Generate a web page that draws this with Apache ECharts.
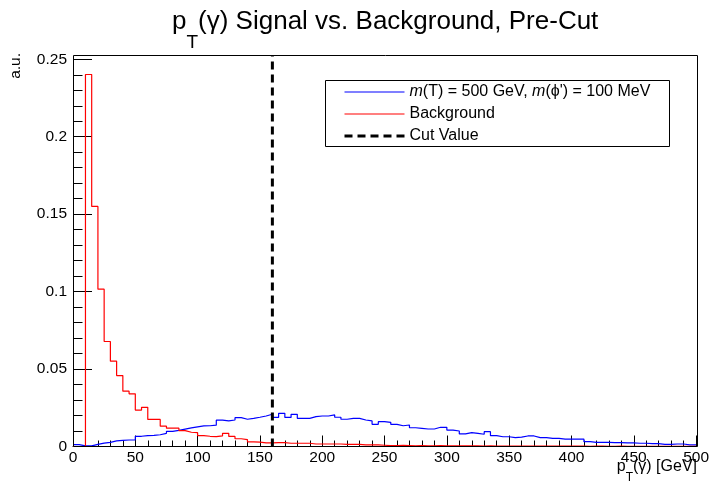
<!DOCTYPE html>
<html><head><meta charset="utf-8">
<script src="https://cdn.jsdelivr.net/npm/echarts@6/dist/echarts.min.js"></script>
<style>html,body{margin:0;padding:0;background:#fff}#c{width:712px;height:482px}</style>
</head><body><div id="c"></div>
<script>
// ---- data ----
const binWidth = 5;           // GeV per bin
const xMin = 0, xMax = 500;
const cutValue = 160;
const signalValues = [
0.0012,0.0004,0.0004,0.0014,0.0022,0.0027,0.0036,0.0040,0.0042,0.0043,
0.0066,0.0070,0.0072,0.0076,0.0085,0.0098,0.0104,0.0112,0.0120,0.0127,
0.0133,0.0134,0.0138,0.0170,0.0166,0.0171,0.0186,0.0176,0.0182,0.0189,
0.0197,0.0208,0.0188,0.0214,0.0188,0.0208,0.0182,0.0182,0.0193,0.0197,
0.0197,0.0204,0.0189,0.0176,0.0182,0.0182,0.0171,0.0165,0.0143,0.0160,
0.0156,0.0143,0.0134,0.0139,0.0121,0.0117,0.0113,0.0113,0.0124,0.0124,
0.0106,0.0100,0.0081,0.0090,0.0085,0.0079,0.0096,0.0070,0.0063,0.0063,
0.0057,0.0060,0.0068,0.0068,0.0057,0.0057,0.0053,0.0053,0.0048,0.0048,
0.0048,0.0048,0.0031,0.0027,0.0027,0.0027,0.0025,0.0025,0.0023,0.0023,
0.0021,0.0021,0.0019,0.0019,0.0014,0.0014,0.0016,0.0016,0.0010,0.0010];
const backgroundValues = [
0,0,0.2402,0.1550,0.1016,0.0678,0.0551,0.0458,0.0357,0.0340,
0.0235,0.0253,0.0175,0.0175,0.0131,0.0118,0.0118,0.0103,0.0092,0.0089,
0.0070,0.0066,0.0064,0.0068,0.0085,0.0065,0.0050,0.0045,0.0030,0.0028,
0.0024,0.0024,0.0025,0.0025,0.0021,0.0021,0.0021,0.0021,0.0016,0.0016,
0.0016,0.0016,0.0016,0.0014,0.0014,0.0014,0.0010,0.0010,0.0010,0.0008,
0.0006,0.0006,0.0007,0.0006,0.0005,0.0006,0.0005,0.0005,0.0006,0.0005,
0.0004,0.0005,0.0004,0.0004,0.0004,0.0003,0.0004,0.0003,0.0003,0.0003,
0.0003,0.0003,0.0002,0.0003,0.0002,0.0002,0.0003,0.0002,0.0002,0.0002,
0.0002,0.0002,0.0001,0.0002,0.0002,0.0001,0.0001,0.0002,0.0001,0.0001,
0.0001,0.0001,0.0001,0.0001,0.0001,0.0001,0.0001,0.0001,0.0001,0.0001];
const yMin = 0, yMax = 0.25, yInterval = 0.05;
const xInterval = 50;
const seriesNames = ['Signal', 'Background', 'Cut Value'];
const legendLabels = {
  'Signal': "{i|m}(T) = 500 GeV, {i|m}(\u03d5') = 100 MeV",
  'Background': 'Background',
  'Cut Value': 'Cut Value'
};

// ---- build histogram step data ----
function histData(vals) {
  const d = vals.map((v, i) => [xMin + i * binWidth, v]);
  d.push([xMax, vals[vals.length - 1]]);
  return d;
}

const FONT = 'Liberation Sans, Arial, Helvetica, sans-serif';
const chart = echarts.init(document.getElementById('c'), null, {renderer: 'canvas'});
chart.setOption({
  animation: false,
  backgroundColor: '#fff',
  title: [
    {
      text: '{m|p}{s|T}{m|(\u03b3) Signal vs. Background, Pre-Cut}',
      left: 172, top: 9, padding: 0,
      textStyle: {
        fontWeight: 'normal',
        rich: {
          m: {fontSize: 26, lineHeight: 30, verticalAlign: 'top', fontFamily: FONT, fontWeight: 'normal', color: '#000'},
          s: {fontSize: 19, padding: [24, 0, 0, 0], verticalAlign: 'top', fontFamily: FONT, fontWeight: 'normal', color: '#000'}
        }
      }
    },
    {
      text: '{m|p}{s|T}{m|(\u03b3) [GeV]}',
      right: 15, top: 459, padding: 0,
      textStyle: {
        fontWeight: 'normal',
        rich: {
          m: {fontSize: 16, lineHeight: 18, verticalAlign: 'top', fontFamily: FONT, fontWeight: 'normal', color: '#000'},
          s: {fontSize: 12, padding: [13, 0, 0, 0], verticalAlign: 'top', fontFamily: FONT, fontWeight: 'normal', color: '#000'}
        }
      }
    }
  ],
  grid: {left: 73, right: 14, top: 59.3, bottom: 35.5, show: false},
  xAxis: {
    type: 'value', min: xMin, max: xMax, interval: xInterval,
    axisLine: {show: true, lineStyle: {color: '#000', width: 1}},
    axisTick: {show: true, inside: true, length: 11, lineStyle: {color: '#000'}},
    minorTick: {show: true, splitNumber: 5, length: 6, lineStyle: {color: '#000'}},
    splitLine: {show: false},
    axisLabel: {color: '#000', fontSize: 15.5, fontFamily: FONT, margin: 3}
  },
  yAxis: {
    type: 'value', min: yMin, max: yMax, interval: yInterval,
    axisLine: {show: true, lineStyle: {color: '#000', width: 1}},
    axisTick: {show: true, inside: true, length: 19, lineStyle: {color: '#000'}},
    minorTick: {show: true, splitNumber: 5, length: 9.5, lineStyle: {color: '#000'}},
    splitLine: {show: false},
    axisLabel: {color: '#000', fontSize: 15.5, fontFamily: FONT, margin: 6}
  },
  legend: {
    orient: 'vertical', left: 338, top: 79,
    itemWidth: 60, itemHeight: 14, itemGap: 6, itemTextGap: 13,
    itemStyle: {opacity: 0},
    lineStyle: {width: 'inherit'},
    data: seriesNames,
    formatter: n => legendLabels[n],
    textStyle: {
      fontSize: 16, fontFamily: FONT, color: '#000',
      rich: {i: {fontStyle: 'italic', fontSize: 16, fontFamily: FONT, color: '#000'}}
    }
  },
  graphic: [
    {type: 'rect', z: 100, silent: true,
     shape: {x: 73.5, y: 55.5, width: 624, height: 391},
     style: {fill: 'none', stroke: '#000', lineWidth: 1}},
    {type: 'rect', z: 100, silent: true,
     shape: {x: 325.5, y: 80.5, width: 344, height: 66},
     style: {fill: 'none', stroke: '#000', lineWidth: 1}},
    {type: 'text', z: 100, silent: true, x: 16, y: 53, rotation: Math.PI / 2,
     style: {text: 'a.u.', font: '15.5px ' + FONT, fill: '#000', textAlign: 'right', textVerticalAlign: 'middle'}}
  ],
  series: [
    {
      name: seriesNames[0], type: 'line', step: 'end', symbol: 'none',
      data: histData(signalValues),
      lineStyle: {color: '#0000ff', width: 1.2}, itemStyle: {color: '#0000ff'}
    },
    {
      name: seriesNames[1], type: 'line', step: 'end', symbol: 'none',
      data: histData(backgroundValues),
      lineStyle: {color: '#ff0000', width: 1.2}, itemStyle: {color: '#ff0000'}
    },
    {
      name: seriesNames[2], type: 'line', symbol: 'none', clip: false,
      data: [[cutValue, yMin], [cutValue, 0.2525]],
      lineStyle: {color: '#000', width: 3, type: [8, 5]}, itemStyle: {color: '#000'}
    }
  ]
});
</script>
</body></html>
